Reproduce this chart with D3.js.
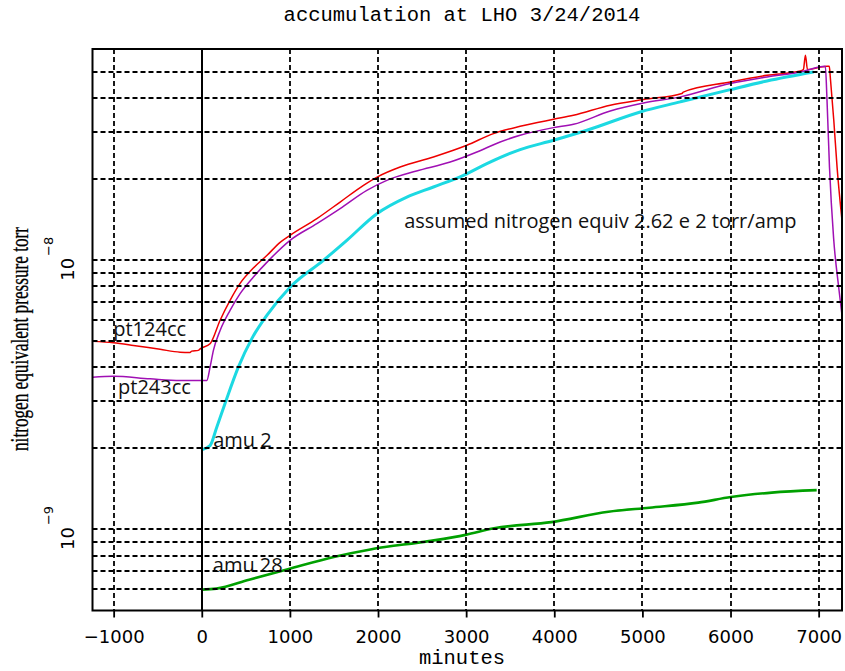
<!DOCTYPE html>
<html>
<head>
<meta charset="utf-8">
<script src="https://cdn.jsdelivr.net/npm/d3@7"></script>
<style>
body { margin: 0; background: #fff; }
.grid line { stroke: #000; stroke-width: 1.8; stroke-dasharray: 5,3; fill: none; }
.curve { fill: none; stroke-linejoin: round; }
.note { font-family: "Open Sans", sans-serif; font-size: 20px; fill: #111; }
.mono { font-family: "Liberation Mono", monospace; font-size: 20.5px; fill: #000; }
.tick-label { font-family: "DejaVu Sans", sans-serif; font-size: 18px; fill: #000; }
</style>
</head>
<body>
<div id="chart"></div>
<script>
// series: [minutes, nitrogen equivalent torr]
var pt124cc = [
    [-1240, 5.0e-9], [-1003, 4.94e-9], [-776, 4.83e-9], [-473, 4.67e-9], [-246, 4.56e-9],
    [-133, 4.55e-9], [-114, 4.60e-9], [-39, 4.63e-9], [-19, 4.69e-9], [94, 4.90e-9],
    [207, 5.98e-9], [321, 7.10e-9], [435, 8.21e-9], [582, 9.34e-9], [741, 1.044e-8],
    [889, 1.167e-8], [1002, 1.239e-8], [1306, 1.429e-8], [1570, 1.647e-8], [1835, 1.900e-8],
    [2005, 2.052e-8], [2251, 2.223e-8], [2629, 2.421e-8], [3008, 2.676e-8], [3310, 2.958e-8],
    [3613, 3.148e-8], [3991, 3.343e-8], [4218, 3.459e-8], [4635, 3.77e-8], [5013, 3.96e-8],
    [5449, 4.17e-8], [5464, 4.22e-8], [5997, 4.60e-8], [6414, 4.87e-8], [6793, 5.05e-8],
    [6827, 5.12e-8], [6850, 5.78e-8], [6873, 5.12e-8], [7095, 5.26e-8], [7121, 5.26e-8],
    [7132, 4.80e-8], [7172, 3.31e-8], [7209, 2.22e-8], [7265, 1.408e-8]
];
var pt243cc = [
    [-1240, 3.68e-9], [-1003, 3.71e-9], [-587, 3.63e-9], [-246, 3.58e-9], [57, 3.58e-9],
    [94, 4.01e-9], [132, 4.63e-9], [208, 5.49e-9], [321, 6.52e-9], [435, 7.52e-9],
    [586, 8.67e-9], [760, 1.0e-8], [1002, 1.187e-8], [1306, 1.369e-8], [1570, 1.557e-8],
    [1873, 1.820e-8], [2100, 1.983e-8], [2437, 2.148e-8], [2819, 2.319e-8], [3122, 2.527e-8],
    [3386, 2.754e-8], [3613, 2.916e-8], [3991, 3.113e-8], [4218, 3.203e-8], [4635, 3.59e-8],
    [5013, 3.845e-8], [5430, 4.05e-8], [5997, 4.54e-8], [6414, 4.80e-8], [6793, 5.01e-8],
    [7076, 5.26e-8], [7095, 3.93e-8], [7123, 2.22e-8], [7170, 1.207e-8], [7227, 7.96e-9],
    [7265, 6.25e-9]
];
var amu2 = [
    [0, 1.978e-9], [94, 2.05e-9], [170, 2.40e-9], [264, 2.94e-9], [415, 4.01e-9],
    [568, 5.12e-9], [738, 6.25e-9], [1002, 7.95e-9], [1380, 1.0e-8], [1646, 1.187e-8],
    [1987, 1.491e-8], [2327, 1.719e-8], [2629, 1.873e-8], [2970, 2.07e-8], [3235, 2.288e-8],
    [3613, 2.58e-8], [3991, 2.793e-8], [4370, 3.043e-8], [4976, 3.56e-8], [5430, 3.88e-8],
    [5997, 4.31e-8], [6414, 4.64e-8], [6943, 5.01e-8]
];
var amu28 = [
    [0, 5.98e-10], [166, 6.03e-10], [537, 6.51e-10], [977, 7.12e-10], [1510, 7.92e-10],
    [1927, 8.45e-10], [2576, 9.05e-10], [2993, 9.55e-10], [3317, 1.01e-9], [3966, 1.065e-9],
    [4614, 1.164e-9], [5078, 1.205e-9], [5634, 1.258e-9], [6005, 1.32e-9], [6468, 1.371e-9],
    [6978, 1.40e-9]
];

var xTicks = [-1000, 0, 1000, 2000, 3000, 4000, 5000, 6000, 7000];
var yGrid = [6e-10, 7e-10, 8e-10, 9e-10, 1e-9, 2e-9, 3e-9, 4e-9, 5e-9, 6e-9, 7e-9, 8e-9, 9e-9,
             1e-8, 2e-8, 3e-8, 4e-8, 5e-8];
var yDecades = [1e-9, 1e-8];
var yExponents = ["-9", "-8"];

// text notes placed in data coordinates
var noteText = ["pt124cc", "pt243cc", "amu 2", "amu 28", "assumed nitrogen equiv 2.62 e 2 torr/amp"];
var noteMinutes = [-1005, -950, 130, 125, 2297];
var noteTorr = [5.22e-9, 3.18e-9, 2.02e-9, 6.94e-10, 1.315e-8];

var box = { left: 92.5, right: 842, top: 49, bottom: 610.5 };

var svg = d3.select("#chart").append("svg")
    .attr("width", 845)
    .attr("height", 671);

var x = d3.scaleLinear().domain([-1240, 7265]).range([box.left, box.right]);
var y = d3.scaleLog().domain([5e-10, 6.1e-8]).range([box.bottom, box.top]);

svg.append("clipPath").attr("id", "plot-clip")
    .append("rect")
    .attr("x", box.left).attr("y", box.top)
    .attr("width", box.right - box.left).attr("height", box.bottom - box.top);

var line = d3.line()
    .x(function(d) { return x(d[0]); })
    .y(function(d) { return y(d[1]); })
    .curve(d3.curveMonotoneX);

// curves
var series = [
    { data: pt124cc, color: "#ee0000", width: 1.5 },
    { data: pt243cc, color: "#a010b4", width: 1.5 },
    { data: amu2, color: "#1cd9e2", width: 3 },
    { data: amu28, color: "#00a000", width: 2.6 }
];
svg.append("g").attr("clip-path", "url(#plot-clip)")
    .selectAll("path")
    .data(series)
    .enter()
    .append("path")
    .attr("class", "curve")
    .attr("d", function(s) { return line(s.data); })
    .attr("stroke", function(s) { return s.color; })
    .attr("stroke-width", function(s) { return s.width; });

// notes
svg.append("g").selectAll("text")
    .data(noteText)
    .enter()
    .append("text")
    .attr("class", "note")
    .attr("x", function(d, i) { return x(noteMinutes[i]); })
    .attr("y", function(d, i) { return y(noteTorr[i]); })
    .text(function(d) { return d; });

// dashed grid, drawn over the curves like the original
var grid = svg.append("g").attr("class", "grid");
grid.selectAll("line.h")
    .data(yGrid)
    .enter()
    .append("line")
    .attr("class", "h")
    .attr("x1", box.left).attr("x2", box.right)
    .attr("y1", function(d) { return Math.round(y(d)); })
    .attr("y2", function(d) { return Math.round(y(d)); });
grid.selectAll("line.v")
    .data(xTicks.filter(function(d) { return d !== 0; }))
    .enter()
    .append("line")
    .attr("class", "v")
    .attr("x1", function(d) { return Math.round(x(d)); })
    .attr("x2", function(d) { return Math.round(x(d)); })
    .attr("y1", box.top).attr("y2", box.bottom);

// solid line at t = 0
svg.append("line")
    .attr("x1", Math.round(x(0))).attr("x2", Math.round(x(0)))
    .attr("y1", box.top).attr("y2", box.bottom)
    .attr("stroke", "#000").attr("stroke-width", 2);

// x axis
var xAxis = svg.append("g")
    .attr("transform", "translate(0," + box.bottom + ")")
    .call(d3.axisBottom(x).tickValues(xTicks).tickSize(7).tickPadding(8).tickFormat(d3.format("d")));
xAxis.select(".domain").remove();
xAxis.selectAll(".tick line").attr("stroke-width", 1.8);
xAxis.selectAll(".tick text")
    .attr("class", "tick-label")
    .attr("font-family", null).attr("font-size", null)
    .attr("dy", null)
    .attr("y", 32.5)
    .text(function(d) { return d < 0 ? "\u2212" + Math.abs(d) : d; });

// y labels: 10 with exponent, rotated
yDecades.forEach(function(v, i) {
    var yy = y(v);
    svg.append("text")
        .attr("class", "tick-label")
        .attr("text-anchor", "middle")
        .attr("transform", "translate(74," + (yy + 9) + ") rotate(-90)")
        .text("10");
    svg.append("text")
        .attr("class", "tick-label")
        .style("font-size", "13px")
        .attr("text-anchor", "middle")
        .attr("transform", "translate(53," + (yy - 14) + ") rotate(-90)")
        .text(yExponents[i].replace("-", "\u2212"));
});

// frame
svg.append("rect")
    .attr("x", box.left).attr("y", box.top)
    .attr("width", box.right - box.left).attr("height", box.bottom - box.top)
    .attr("fill", "none").attr("stroke", "#000").attr("stroke-width", 2);

// titles
svg.append("text")
    .attr("class", "mono")
    .attr("x", 462).attr("y", 21)
    .attr("text-anchor", "middle")
    .text("accumulation at LHO 3/24/2014");
svg.append("text")
    .attr("class", "mono")
    .attr("x", 462).attr("y", 664)
    .attr("text-anchor", "middle")
    .text("minutes");
svg.append("text")
    .attr("transform", "translate(28,339) rotate(-90)")
    .attr("text-anchor", "middle")
    .attr("font-family", "Liberation Serif, serif")
    .attr("font-size", 25)
    .attr("stroke", "#000")
    .attr("stroke-width", 0.3)
    .attr("textLength", 224)
    .attr("lengthAdjust", "spacingAndGlyphs")
    .text("nitrogen equivalent pressure torr");
</script>
</body>
</html>
